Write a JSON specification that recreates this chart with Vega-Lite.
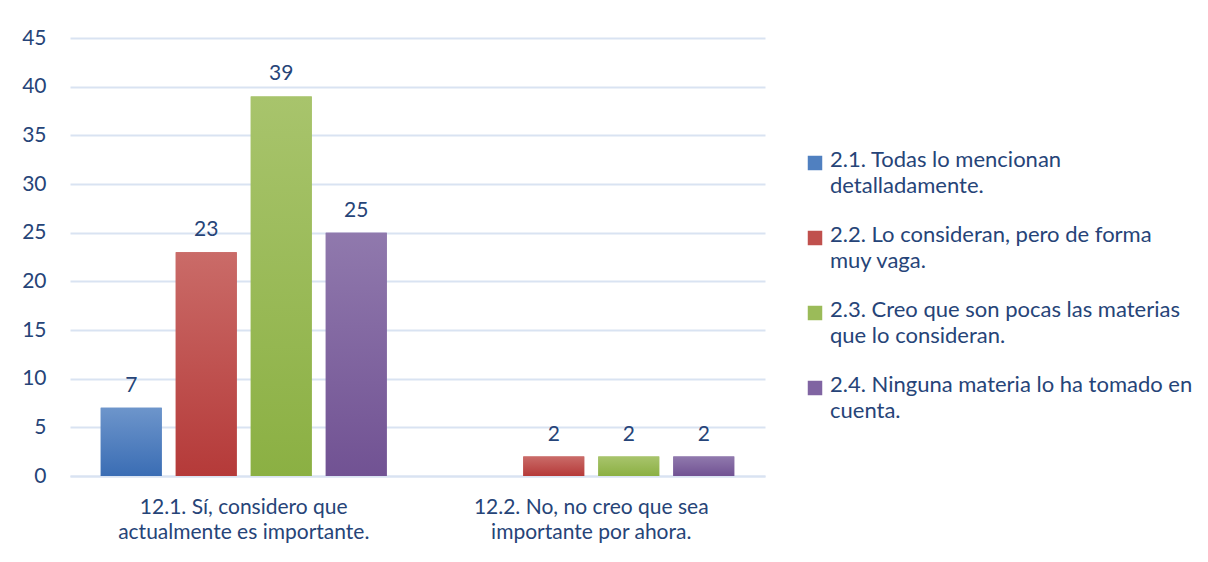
{
  "$schema": "https://vega.github.io/schema/vega-lite/v6.json",
  "width": 695,
  "height": 438,
  "autosize": {"type": "none"},
  "padding": {"left": 70, "top": 38, "right": 443, "bottom": 86},
  "background": "white",
  "data": {
    "values": [
      {"cat": "12.1. Sí, considero que actualmente es importante.", "series": "2.1. Todas lo mencionan detalladamente.", "value": 7},
      {"cat": "12.1. Sí, considero que actualmente es importante.", "series": "2.2. Lo consideran, pero de forma muy vaga.", "value": 23},
      {"cat": "12.1. Sí, considero que actualmente es importante.", "series": "2.3. Creo que son pocas las materias que lo consideran.", "value": 39},
      {"cat": "12.1. Sí, considero que actualmente es importante.", "series": "2.4. Ninguna materia lo ha tomado en cuenta.", "value": 25},
      {"cat": "12.2. No, no creo que sea importante por ahora.", "series": "2.2. Lo consideran, pero de forma muy vaga.", "value": 2},
      {"cat": "12.2. No, no creo que sea importante por ahora.", "series": "2.3. Creo que son pocas las materias que lo consideran.", "value": 2},
      {"cat": "12.2. No, no creo que sea importante por ahora.", "series": "2.4. Ninguna materia lo ha tomado en cuenta.", "value": 2}
    ]
  },
  "encoding": {
    "x": {
      "field": "cat", "type": "nominal", "sort": null,
      "scale": {"paddingInner": 0, "paddingOuter": 0},
      "axis": {
        "title": null, "labelAngle": 0, "ticks": false, "domain": true,
        "domainColor": "#d9e3f2", "domainWidth": 2,
        "labelPadding": 20, "labelFontSize": 21, "labelColor": "#264478", "labelFont": "Lato",
        "labelLineHeight": 25, "labelLimit": 500,
        "labelExpr": "indexof(datum.label, '12.1') == 0 ? ['12.1. Sí, considero que', 'actualmente es importante.'] : ['12.2. No, no creo que sea', 'importante por ahora.']"
      }
    },
    "xOffset": {
      "field": "series", "type": "nominal",
      "scale": {"paddingInner": 0.187, "paddingOuter": 0.41}
    },
    "y": {
      "field": "value", "type": "quantitative",
      "scale": {"domain": [0, 45], "nice": false},
      "axis": {
        "title": null, "values": [0, 5, 10, 15, 20, 25, 30, 35, 40, 45],
        "domain": false, "ticks": false, "grid": true,
        "gridColor": "#d9e3f2", "gridWidth": 2,
        "labelPadding": 24, "labelFontSize": 21, "labelColor": "#264478", "labelFont": "Lato"
      }
    }
  },
  "layer": [
    {
      "mark": {"type": "bar"},
      "encoding": {
        "fill": {
          "field": "series", "type": "nominal",
          "scale": {
            "domain": [
              "2.1. Todas lo mencionan detalladamente.",
              "2.2. Lo consideran, pero de forma muy vaga.",
              "2.3. Creo que son pocas las materias que lo consideran.",
              "2.4. Ninguna materia lo ha tomado en cuenta."
            ],
            "range": ["#5080c0", "#c0504d", "#9bbb59", "#8064a2"]
          },
          "legend": {
            "orient": "none", "legendX": 734, "legendY": 114,
            "title": null, "symbolType": "square", "symbolSize": 210, "symbolStrokeWidth": 0,
            "labelFontSize": 22, "labelColor": "#264478", "labelFont": "Lato", "labelLimit": 450,
            "labelOffset": 4, "rowPadding": 27, "labelBaseline": "top",
            "encode": {"labels": {"update": {"dy": {"value": -13}, "lineHeight": {"value": 26}}}},
            "labelExpr": "indexof(datum.label, '2.1') == 0 ? ['2.1. Todas lo mencionan', 'detalladamente.'] : indexof(datum.label, '2.2') == 0 ? ['2.2. Lo consideran, pero de forma', 'muy vaga.'] : indexof(datum.label, '2.3') == 0 ? ['2.3. Creo que son pocas las materias', 'que lo consideran.'] : ['2.4. Ninguna materia lo ha tomado en', 'cuenta.']"
          }
        }
      }
    },
    {
      "mark": {"type": "bar"},
      "encoding": {
        "fill": {
          "condition": [
            {"test": "indexof(datum.series, '2.1') == 0", "value": {"gradient": "linear", "x1": 0, "y1": 0, "x2": 0, "y2": 1, "stops": [{"offset": 0, "color": "#6d95cb"}, {"offset": 1, "color": "#3a6db4"}]}},
            {"test": "indexof(datum.series, '2.2') == 0", "value": {"gradient": "linear", "x1": 0, "y1": 0, "x2": 0, "y2": 1, "stops": [{"offset": 0, "color": "#ca6b68"}, {"offset": 1, "color": "#b53a39"}]}},
            {"test": "indexof(datum.series, '2.3') == 0", "value": {"gradient": "linear", "x1": 0, "y1": 0, "x2": 0, "y2": 1, "stops": [{"offset": 0, "color": "#a8c46c"}, {"offset": 1, "color": "#8bb043"}]}}
          ],
          "value": {"gradient": "linear", "x1": 0, "y1": 0, "x2": 0, "y2": 1, "stops": [{"offset": 0, "color": "#9079ad"}, {"offset": 1, "color": "#715293"}]}
        }
      }
    },
    {
      "mark": {"type": "text", "baseline": "bottom", "dy": -12, "fontSize": 21, "color": "#264478", "font": "Lato"},
      "encoding": {"text": {"field": "value", "type": "quantitative"}}
    }
  ],
  "config": {"view": {"stroke": null}}
}
